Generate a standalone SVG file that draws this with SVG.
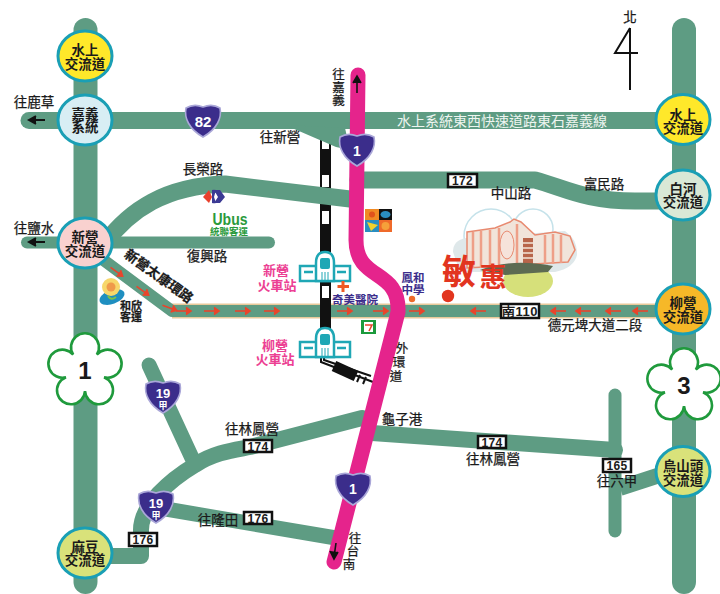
<svg xmlns="http://www.w3.org/2000/svg" width="720" height="594" viewBox="0 0 720 594">
<style>
text{font-family:"Noto Sans CJK TC","Noto Sans",sans-serif;fill:#1a1a1a;text-anchor:middle}
.l{font-size:13.5px;stroke:#1a1a1a;stroke-width:.25}
.v{font-size:12.5px;stroke:#1a1a1a;stroke-width:.25}
.b{font-size:13.5px;font-weight:700}
.p{font-size:13px;font-weight:700;fill:#ec3f93}
.u{font-size:11.5px;font-weight:700;fill:#3b2d8b}
.n{font-family:"Liberation Sans",Arial,sans-serif;font-weight:700;font-size:12px;letter-spacing:.4px}
.r{fill:none;stroke:#5e9c83;stroke-linecap:round;stroke-linejoin:round}
.c{stroke:#1a9fb5;stroke-width:3}
.box{fill:#fff;stroke:#111;stroke-width:2.5}
.sv{fill:#fff;font-family:"Liberation Sans",Arial,sans-serif;font-weight:700}
.st{fill:#fff;stroke:#1fa7b5;stroke-width:2.5}
</style>
<defs>
<path id="shield" d="M0,-14C5,-16 12,-16 17,-13C19,-3 14,8 0,16C-14,8 -19,-3 -17,-13C-12,-16 -5,-16 0,-14Z" fill="#3b2d8b" stroke="#aaa7d8" stroke-width="1.6"/>
<path id="flower" d="M-11.8,-16.2A14,14 0 1 1 11.8,-16.2A14,14 0 1 1 19,6.2A14,14 0 1 1 0,20A14,14 0 1 1 -19,6.2A14,14 0 1 1 -11.8,-16.2Z" fill="#fff" stroke="#1f9a3c" stroke-width="2.6"/>
<g id="ar" fill="none" stroke="#e8452c" stroke-width="1.6"><path d="M-8,0H7"/><path d="M2,-3.5L7,0L2,3.5" fill="#e8452c"/></g>
<g id="al" fill="none" stroke="#e8452c" stroke-width="1.6"><path d="M8,0H-7"/><path d="M-2,-3.5L-7,0L-2,3.5" fill="#e8452c"/></g>
<g id="station">
<rect class="st" x="-25" y="0" width="50" height="15"/>
<path class="st" d="M-9,15V-3Q-9,-14 0,-14Q9,-14 9,-3V15Z"/>
<rect x="-5" y="-8" width="10" height="11" rx="2" fill="#1fa7b5"/>
<path d="M-3,6V14M0,6V14M3,6V14" stroke="#1fa7b5" stroke-width="1"/>
<path d="M-21,6h9M12,6h9" stroke="#1fa7b5" stroke-width="2.5"/>
</g>
</defs>
<rect width="720" height="594" fill="#fff"/>

<g id="railway">
<rect x="320" y="137" width="11" height="52" fill="#111"/>
<rect x="322" y="139" width="7" height="10" fill="#fff"/>
<rect x="322" y="175" width="7" height="12" fill="#fff"/>
<rect x="320" y="204" width="11" height="62" fill="#111"/>
<rect x="322" y="211" width="7" height="13" fill="#fff"/>
<path d="M321,356V362L373,382M324,356V360L371,376" fill="none" stroke="#111" stroke-width="2"/>
<path d="M334,366L356,376" stroke="#111" stroke-width="11"/>
<path d="M360,375l-3,7M366,377l-3,7" stroke="#111" stroke-width="2"/>
</g>

<g id="connectors">
<path class="r" stroke-width="24" d="M85.5,30V582"/>
<path class="r" stroke-width="24" d="M684,30V582"/>
<path class="r" stroke-width="17" d="M29,120.500H684"/>
<path class="r" stroke-width="12" d="M27,242.500H85"/>
<path d="M285,125L345,128L350,150L336,147Z" fill="#5e9c83"/>
<path class="r" stroke-width="17" d="M358,180H535C565,188 585,201 635,201H684"/>
<path class="r" stroke-width="17" d="M105,243C130,210 165,186 225,184L350,199"/>
<path class="r" stroke-width="12" d="M85,242.500H269"/>
<path d="M172,311H684" stroke="#e8c99a" stroke-width="15" fill="none"/>
<path class="r" stroke-width="12" d="M98,256L172,311H684"/>
<path class="r" stroke-width="15" d="M149,365L192,458"/>
<path class="r" stroke-width="16" d="M100,556H141V530C141,505 170,480 195,465C215,452 235,450 250,447L362,418"/>
<path class="r" stroke-width="15" d="M160,508L336,538"/>
<path class="r" stroke-width="16" d="M372,433L615,450"/>
<path class="r" stroke-width="13" d="M615,395V531"/>
<path d="M620,488L660,475" stroke="#5e9c83" stroke-width="16"/>
<rect x="320" y="282" width="11" height="50" fill="#111"/>
<rect x="322" y="286" width="7" height="12" fill="#fff"/>
<use href="#ar" transform="translate(117 272) rotate(36)"/>
<use href="#ar" transform="translate(143 291) rotate(36)"/>
<use href="#ar" transform="translate(170 308) rotate(20)"/>
<use href="#ar" x="184" y="311"/><use href="#ar" x="212" y="311"/><use href="#ar" x="243" y="311"/>
<use href="#ar" x="272" y="311"/><use href="#ar" x="345" y="311"/><use href="#ar" x="381" y="311"/><use href="#ar" x="417" y="311"/>
<use href="#al" x="478" y="311"/><use href="#al" x="558" y="311"/><use href="#al" x="583" y="311"/><use href="#al" x="613" y="311"/><use href="#al" x="640" y="311"/>
<path class="r" style="stroke:#e5248c" stroke-width="15" d="M358,75L356,240C356,282 400,268 398,312L334,562"/>
<path d="M45,120H31M36,116L29,120L36,124" fill="#111" stroke="#111" stroke-width="2"/>
<path d="M45,242H31M36,238L29,242L36,246" fill="#111" stroke="#111" stroke-width="2"/>
<path d="M357,93V78M353,83L357,76L361,83" fill="#111" stroke="#111" stroke-width="1.6"/>
<path d="M336,543L334,557M330,551L334,559L338,552" fill="#111" stroke="#111" stroke-width="1.6"/>
</g>

<g id="road-labels">
<text class="l" x="34" y="107">往鹿草</text>
<text class="l" x="34" y="233">往鹽水</text>
<text class="l" x="203" y="174">長榮路</text>
<text class="l" x="280" y="142">往新營</text>
<text class="l" x="207" y="261">復興路</text>
<text class="l" transform="translate(156,280) rotate(36)" style="font-size:13.5px;font-weight:700">新營太康環路</text>
<text class="l" style="font-size:11px;font-weight:700"><tspan x="131" y="310">和欣</tspan><tspan x="131" y="321">客運</tspan></text>
<text class="v"><tspan x="338.500" y="79">往</tspan><tspan x="338.500" y="92">嘉</tspan><tspan x="338.500" y="105">義</tspan></text>
<text x="502" y="126" style="font-size:14px;fill:#eef5f0">水上系統東西快速道路東石嘉義線</text>
<text class="l" x="630" y="22">北</text>
<text class="l" x="511" y="198">中山路</text>
<text class="l" x="604" y="189">富民路</text>
<text class="l" x="595" y="330">德元埤大道二段</text>
<text class="v"><tspan x="402" y="353">外</tspan><tspan x="399" y="367">環</tspan><tspan x="396" y="381">道</tspan></text>
<text class="l" x="402" y="424">龜子港</text>
<text class="l" x="493" y="464">往林鳳營</text>
<text class="l" x="617" y="486">往六甲</text>
<text class="v"><tspan x="355" y="543">往</tspan><tspan x="353" y="556">台</tspan><tspan x="349" y="569">南</tspan></text>
<text class="l" x="252" y="434">往林鳳營</text>
<text class="l" x="218" y="525">往隆田</text>
</g>

<g id="north"><path d="M630,28V90M630,28L615,53H638" fill="none" stroke="#111" stroke-width="2"/></g>

<g id="sign-172"><rect class="box" x="448" y="174" width="29" height="13"/><text class="n" x="462.500" y="185">172</text></g>
<g id="sign-nan110"><rect class="box" x="501" y="304" width="38" height="14"/><text class="n" x="520" y="316" style="font-size:13px">南110</text></g>
<g id="sign-174a"><rect class="box" x="244" y="440" width="28" height="12"/><text class="n" x="258" y="451">174</text></g>
<g id="sign-174b"><rect class="box" x="478" y="436" width="28" height="12"/><text class="n" x="492" y="446.500">174</text></g>
<g id="sign-176a"><rect class="box" x="244" y="512" width="28" height="12"/><text class="n" x="258" y="522.500">176</text></g>
<g id="sign-176b"><rect class="box" x="129" y="533" width="28" height="13"/><text class="n" x="143" y="544">176</text></g>
<g id="sign-165"><rect class="box" x="603" y="459" width="28" height="13"/><text class="n" x="617" y="470">165</text></g>

<g id="shield-82"><use href="#shield" x="203" y="121"/><text class="sv" x="203" y="127" style="font-size:15px">82</text></g>
<g id="shield-1a"><use href="#shield" x="357" y="150"/><text class="sv" x="357" y="156" style="font-size:14px">1</text></g>
<g id="shield-1b"><use href="#shield" x="353" y="489"/><text class="sv" x="353" y="494" style="font-size:14px">1</text></g>
<g id="shield-19a"><use href="#shield" x="163" y="397"/><text class="sv" x="163" y="398" style="font-size:13px">19</text><text x="163" y="409" style="font-size:9px;font-weight:700;fill:#fff">甲</text></g>
<g id="shield-19b"><use href="#shield" x="156" y="507"/><text class="sv" x="156" y="508" style="font-size:13px">19</text><text x="156" y="519" style="font-size:9px;font-weight:700;fill:#fff">甲</text></g>

<g id="freeway-1"><use href="#flower" x="85" y="371"/><text x="85" y="379" style="font-family:'Liberation Sans',Arial,sans-serif;font-size:24px;font-weight:700">1</text></g>
<g id="freeway-3"><use href="#flower" x="684" y="386"/><text x="684" y="394" style="font-family:'Liberation Sans',Arial,sans-serif;font-size:24px;font-weight:700">3</text></g>

<g id="ic-shuishang-w"><ellipse class="c" cx="85" cy="56" rx="27" ry="25" fill="#ffe82a"/><text class="b"><tspan x="85" y="55">水上</tspan><tspan x="85" y="68.500">交流道</tspan></text></g>
<g id="ic-chiayi"><ellipse class="c" cx="85" cy="120" rx="27" ry="25" fill="#d8eef4"/><text class="b"><tspan x="85" y="118.500">嘉義</tspan><tspan x="85" y="132">系統</tspan></text></g>
<g id="ic-xinying"><ellipse class="c" cx="85" cy="243" rx="27" ry="25" fill="#f9d1cf"/><text class="b"><tspan x="85" y="242">新營</tspan><tspan x="85" y="255.500">交流道</tspan></text></g>
<g id="ic-madou"><ellipse class="c" cx="85" cy="553" rx="27" ry="25" fill="#d9e27a"/><text class="b"><tspan x="85" y="551.500">麻豆</tspan><tspan x="85" y="565">交流道</tspan></text></g>
<g id="ic-shuishang-e"><ellipse class="c" cx="683" cy="119.500" rx="27" ry="25" fill="#ffe82a"/><text class="b"><tspan x="683" y="119.500">水上</tspan><tspan x="683" y="133">交流道</tspan></text></g>
<g id="ic-baihe"><ellipse class="c" cx="683" cy="195" rx="27" ry="25" fill="#d9e8d6"/><text class="b"><tspan x="683" y="193.500">白河</tspan><tspan x="683" y="207">交流道</tspan></text></g>
<g id="ic-liuying"><ellipse class="c" cx="683" cy="309" rx="27" ry="25" fill="#f6b828"/><text class="b"><tspan x="683" y="308">柳營</tspan><tspan x="683" y="321.500">交流道</tspan></text></g>
<g id="ic-wushantou"><ellipse class="c" cx="683" cy="471.500" rx="27" ry="25" fill="#d9e27a"/><text class="b"><tspan x="683" y="471">烏山頭</tspan><tspan x="683" y="484.500">交流道</tspan></text></g>

<g id="station-xinying"><use href="#station" x="325" y="266"/><text class="p"><tspan x="276" y="275">新營</tspan><tspan x="277" y="290">火車站</tspan></text></g>
<g id="station-liuying"><use href="#station" x="325" y="342"/><text class="p"><tspan x="275" y="350">柳營</tspan><tspan x="275" y="364">火車站</tspan></text></g>

<g id="chimei"><path d="M343,281V292M337.500,286.500H349" stroke="#ef5a24" stroke-width="3"/><text class="u" x="355" y="304">奇美醫院</text></g>
<g id="seven"><rect x="361" y="320" width="15" height="14" fill="#1b9a3c"/><rect x="364" y="322" width="9" height="10" fill="#fff"/><path d="M365,325h7l-3,6" fill="none" stroke="#e8452c" stroke-width="1.6"/></g>
<g id="fenghe"><text class="u"><tspan x="413" y="282">鳳和</tspan><tspan x="413" y="294">中學</tspan></text><circle cx="412" cy="299" r="3.200" fill="#ef6a2a"/></g>

<g id="tiles">
<rect x="365" y="209" width="14" height="11" fill="#f08a24"/><rect x="379" y="209" width="13" height="11" fill="#111"/>
<rect x="365" y="220" width="14" height="12" fill="#2a8ec0"/><rect x="379" y="220" width="13" height="12" fill="#ef6a2a"/>
<circle cx="372" cy="214.500" r="3" fill="#e0521c"/><ellipse cx="385.500" cy="214.500" rx="5" ry="3.500" fill="#2a8ec0"/>
<path d="M367,222L378,225L371,231Z" fill="#f2d22c"/><circle cx="385.500" cy="226" r="4" fill="#f5a03a"/>
</g>

<g id="carrefour">
<path d="M209,190L203,197L209,203L212,197Z" fill="#e8402c"/>
<path d="M214,190H220L225,197L220,203H214L218,197Z" fill="#3b3a94"/>
<path d="M212,190A7,7 0 0 1 216,190L214,197L216,203A7,7 0 0 1 212,203Z" fill="#3b3a94"/>
</g>
<g id="ubus">
<text x="230" y="225" style="font-family:'Liberation Sans',Arial,sans-serif;font-size:17px;font-weight:700;fill:#2a9a3c" textLength="35" lengthAdjust="spacingAndGlyphs">Ubus</text>
<text x="229" y="235" style="font-size:9px;font-weight:700;fill:#2a9a3c" textLength="38" lengthAdjust="spacingAndGlyphs">統聯客運</text>
</g>
<g id="hexin-logo">
<ellipse cx="112" cy="297" rx="13" ry="7" transform="rotate(-20 112 297)" fill="#1f8fc0"/>
<circle cx="111" cy="287" r="9" fill="#f7d76a"/><circle cx="111" cy="287" r="4.500" fill="#ef9a4a"/>
<path d="M108,296q3,5 8,1" fill="none" stroke="#7ac24a" stroke-width="2"/>
</g>

<g id="campus">
<circle cx="491" cy="236" r="27" fill="#fff" stroke="#c5e2ea" stroke-width="1.500"/>
<circle cx="533" cy="229" r="20" fill="#fff" stroke="#c5e2ea" stroke-width="1.500"/>
<path d="M453,252Q453,240 466,238L565,231Q578,240 577,255Q574,268 555,272H460Z" fill="#dfe8ea"/>
<ellipse cx="528" cy="281" rx="25" ry="16" fill="#d6e07a"/>
<path d="M467,232L495,228L510,222L514,219L521,222L535,235L555,232L570,236L575,250L568,262L467,268Z" fill="#f1e4da" stroke="#e88a70" stroke-width="1.500"/>
<path d="M473,232V268M481,231V268M490,230V268M499,228V268M517,224V266M545,235V264M553,234V264M561,235V263" stroke="#ee9f88" stroke-width="2.500"/>
<rect x="523" y="238" width="10" height="26" fill="#b8654a"/>
<path d="M523,243h10M523,248h10M523,253h10M523,258h10" stroke="#f3e5d8" stroke-width="1.500"/>
<ellipse cx="507" cy="245" rx="7" ry="14" fill="#f6e3da" stroke="#e88a70"/>
<path d="M480,270Q510,258 553,266L548,272L505,275Z" fill="#5d6b52"/>
<text x="459" y="284" style="font-size:34px;font-weight:700;fill:#e2351f">敏</text>
<text x="493" y="287" style="font-size:27px;font-weight:700;fill:#e2351f">惠</text>
<circle cx="448" cy="296" r="6.200" fill="#e2351f"/>
</g>
</svg>
